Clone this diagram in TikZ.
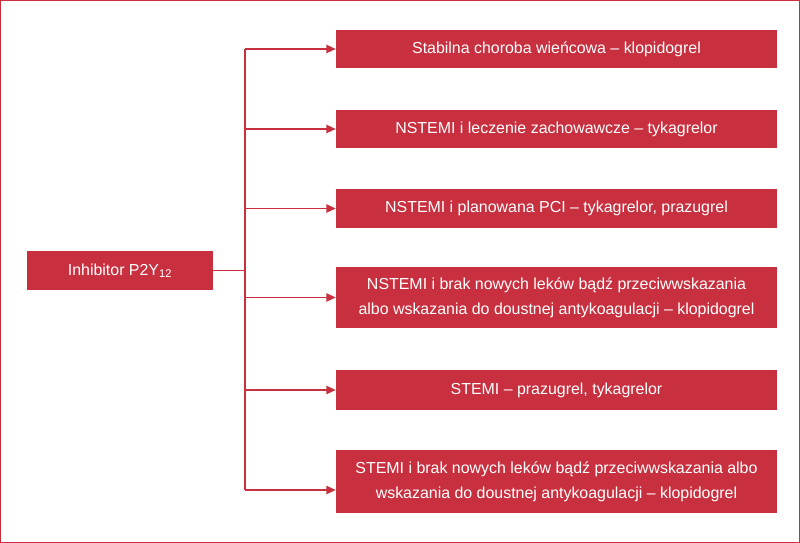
\documentclass[tikz,border=0pt]{standalone}
\usepackage{fontspec}
\setmainfont{Liberation Sans}
\usetikzlibrary{positioning,arrows.meta}
\definecolor{boxred}{HTML}{C8303F}
\tikzset{
  box/.style={fill=boxred, text=white, font=\fontsize{13.6}{21}\selectfont,
    align=center, inner sep=0pt, minimum width=13.23cm},
  link/.style={draw=boxred, line width=1.5pt},
  arr/.style={link, -{Triangle[length=8pt,width=7pt]}}
}
\begin{document}
\begin{tikzpicture}[x=0.03cm,y=-0.03cm]
  \draw[boxred, line width=0.6pt] (0.5,0.5) rectangle (799.5,542.5);
  \useasboundingbox (0,0) rectangle (800,543);

  \node[box, minimum width=5.58cm, minimum height=1.17cm] (inh) at (120,270.5) {Inhibitor P2Y\textsubscript{12}};

  \node[box, minimum height=1.14cm] (b1) at (556.5,49) {Stabilna choroba wieńcowa -- klopidogrel};
  \node[box, minimum height=1.14cm] (b2) at (556.5,129) {NSTEMI i leczenie zachowawcze -- tykagrelor};
  \node[box, minimum height=1.17cm] (b3) at (556.5,208.5) {NSTEMI i planowana PCI -- tykagrelor, prazugrel};
  \node[box, minimum height=1.83cm] (b4) at (556.5,297.5) {NSTEMI i brak nowych leków bądź przeciwwskazania\\albo wskazania do doustnej antykoagulacji -- klopidogrel};
  \node[box, minimum height=1.2cm] (b5) at (556.5,390) {STEMI -- prazugrel, tykagrelor};
  \node[box, minimum height=1.89cm] (b6) at (556.5,481.5) {STEMI i brak nowych leków bądź przeciwwskazania albo\\wskazania do doustnej antykoagulacji -- klopidogrel};

  \coordinate (top) at (245,49);
  \coordinate (bot) at (245,490);
  \coordinate (mid) at (245,270.5);
  \draw[link] (top) -- (bot);
  \draw[link] (inh.east) -- (mid);
  \foreach \b/\y in {b1/49,b2/129,b3/208.5,b4/297.5,b5/390,b6/490}
    \draw[arr] (245,\y) -- (\b.west |- 245,\y);
\end{tikzpicture}
\end{document}
